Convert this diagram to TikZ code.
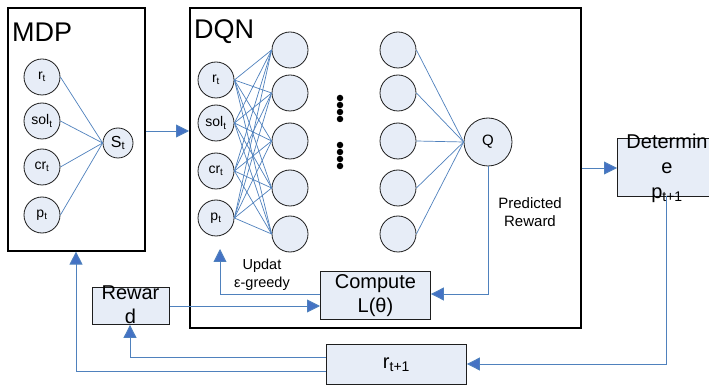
\documentclass[tikz,border=0pt]{standalone}
\usepackage{fontspec}
\setmainfont{Liberation Sans}
\usetikzlibrary{arrows.meta}
\definecolor{lnblue}{RGB}{79,129,189}
\definecolor{tipblue}{RGB}{68,114,196}
\definecolor{cfill}{RGB}{231,237,247}
\definecolor{cdraw}{RGB}{30,30,30}
\tikzset{
  neuron/.style={circle,draw=cdraw,line width=0.8pt,fill=cfill,minimum size=36pt,inner sep=0pt,font=\fontsize{14}{16}\selectfont},
  bigbox/.style={draw=black,line width=1.6pt,fill=white},
  procbox/.style={draw=cdraw,line width=0.9pt,fill=cfill,inner sep=0pt},
  conn/.style={draw=lnblue,line width=0.7pt},
  flow/.style={draw=lnblue,line width=0.9pt,-{Triangle[length=13pt,width=13pt,fill=tipblue]}},
  title/.style={font=\fontsize{27}{30}\selectfont,anchor=west,inner sep=0pt},
  boxtxt/.style={font=\fontsize{20}{24}\selectfont,align=center,inner sep=0pt},
  smalltxt/.style={font=\fontsize{15}{18}\selectfont,align=center,inner sep=0pt},
  dotn/.style={circle,fill=black,minimum size=6.5pt,inner sep=0pt}
}
\begin{document}
\begin{tikzpicture}[x=1pt,y=-1pt]
\useasboundingbox (0,0) rectangle (709,387);
\clip (0,0) rectangle (709,387);
% big boxes
\node[bigbox,minimum width=137pt,minimum height=243pt,anchor=north west] (mdp) at (7,7) {};
\node[bigbox,minimum width=391pt,minimum height=320pt,anchor=north west] (dqn) at (189,7) {};
\node[title] (mdpt) at (12,32) {MDP};
\node[title] (dqnt) at (194,32) {DQN};
% MDP neurons
\node[neuron] (m1) at (42,77) {r\textsubscript{t}};
\node[neuron] (m2) at (42,121) {sol\textsubscript{t}};
\node[neuron] (m3) at (42,167) {cr\textsubscript{t}};
\node[neuron] (m4) at (42,215) {p\textsubscript{t}};
\node[neuron,minimum size=30pt,font=\fontsize{16}{18}\selectfont] (st) at (118,143) {S\textsubscript{t}};
\foreach \i in {1,...,4} \draw[conn] (m\i.east) -- (st.west);
% DQN inputs
\node[neuron] (d1) at (216,80) {r\textsubscript{t}};
\node[neuron] (d2) at (216,123) {sol\textsubscript{t}};
\node[neuron] (d3) at (216,171) {cr\textsubscript{t}};
\node[neuron] (d4) at (216,218) {p\textsubscript{t}};
% hidden layers
\foreach \j/\y in {1/50,2/93,3/141,4/188,5/234} {
  \node[neuron] (h\j) at (290,\y) {};
  \node[neuron] (g\j) at (398,\y) {};
}
\node[neuron,minimum size=48pt,font=\fontsize{15}{17}\selectfont] (q) at (488,142) {Q};
\foreach \i in {1,...,4} \foreach \j in {1,...,5} \draw[conn] (d\i.east) -- (h\j.west);
\foreach \j in {1,...,5} \draw[conn] (g\j.east) -- (q.west);
% dots
\foreach \k/\y in {a/98,b/105,c/112,d/119,e/145,f/152,g/159,h/166}
  \node[dotn] (dot\k) at (340,\y) {};
% process boxes
\node[procbox,minimum width=110pt,minimum height=48pt,anchor=north west] (comp) at (320,271) {};
\node[boxtxt] (compt) at (comp.center) {Compute\\L(θ)};
\node[procbox,minimum width=77pt,minimum height=37pt,anchor=north west] (rew) at (92,287) {};
\node[boxtxt] (rewt) at (130.5,305) {Rewar\\d};
\node[procbox,minimum width=140pt,minimum height=40pt,anchor=north west] (rnext) at (326,344) {};
\node[boxtxt] (rnextt) at (rnext.center) {r\textsubscript{t+1}};
\node[procbox,minimum width=110pt,minimum height=58pt,anchor=north west] (det) at (617,138) {};
\node[boxtxt,font=\fontsize{20}{25}\selectfont] (dett) at (667,168) {Determin\\e\\p\textsubscript{t+1}};
% labels
\node[smalltxt] (pred) at (530,212) {Predicted\\Reward};
\node[smalltxt,font=\fontsize{14.5}{18}\selectfont] (upd) at (262,275) {Updat\\ε-greedy};
% flows
\draw[flow] (mdp.east |- 0,131) -- (dqn.west |- 0,131);
\draw[flow] (dqn.east |- 0,168) -- (det.west |- 0,168);
\draw[flow] (q.south) |- (comp.east |- 0,294);
\draw[flow] (comp.west |- 0,294) -| (220,249);
\draw[flow] (rew.east |- 0,306) -- (comp.west |- 0,306);
\draw[flow] (666,196) |- (rnext.east |- 0,364);
\draw[flow] (rnext.west |- 0,357) -| (rew.south -| 130,0);
\draw[flow] (rnext.west |- 0,371) -| (mdp.south -| 76,0);
\end{tikzpicture}
\end{document}
